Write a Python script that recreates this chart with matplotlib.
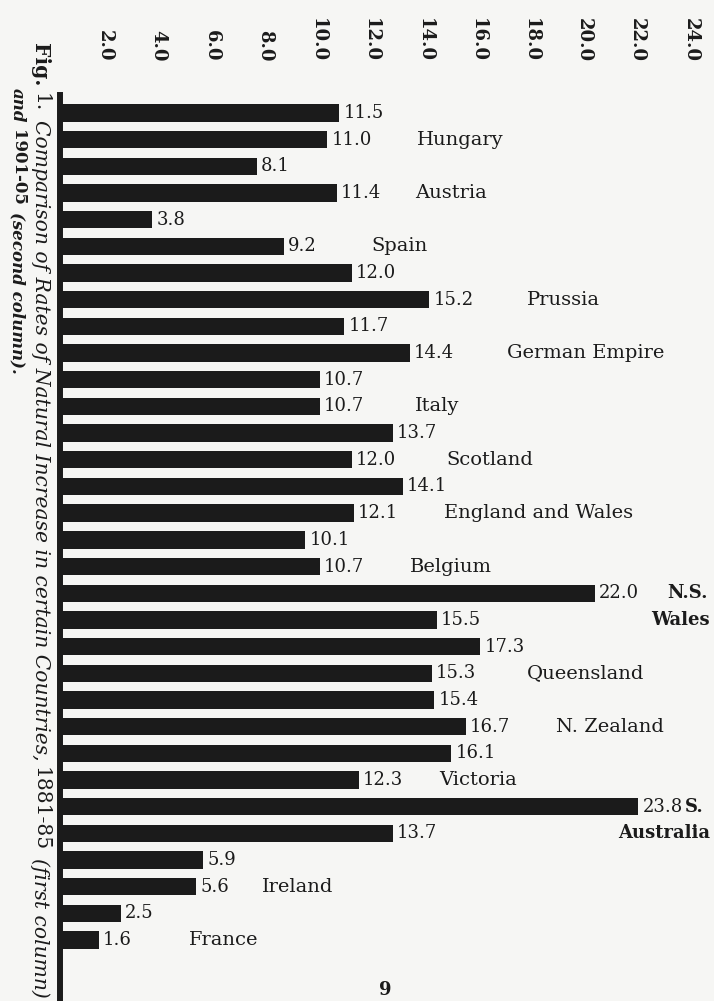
import matplotlib
matplotlib.use("Agg")
import matplotlib.pyplot as plt

# rates of natural increase, 1881-85 (first bar) and 1901-05 (second bar)
countries = ["Hungary", "Austria", "Spain", "Prussia", "German Empire", "Italy",
             "Scotland", "England and Wales", "Belgium", "N.S. Wales", "Queensland",
             "N. Zealand", "Victoria", "S. Australia", "Ireland", "France"]
rate_1881_85 = [11.5, 8.1, 3.8, 12.0, 11.7, 10.7, 13.7, 14.1, 10.1, 22.0,
                17.3, 15.4, 16.1, 23.8, 5.9, 2.5]
rate_1901_05 = [11.0, 11.4, 9.2, 15.2, 14.4, 10.7, 12.0, 12.1, 10.7, 15.5,
                15.3, 16.7, 12.3, 13.7, 5.6, 1.6]
scale_ticks = [2.0, 4.0, 6.0, 8.0, 10.0, 12.0, 14.0, 16.0, 18.0, 20.0, 22.0, 24.0]

# where the country names start (x in bar units); the two split names
# put their first word on the upper row and the rest flush right below
name_x = [14.7, 14.6, 12.8, 19.2, 18.4, 14.6, 15.9, 15.8, 14.4, 25.0,
          19.2, 20.4, 15.6, 25.7, 8.3, 5.3]
split_names = ["N.S. Wales", "S. Australia"]

ink = "#1b1b1b"
paper = "#f6f6f4"
serif = "DejaVu Serif"

W, H = 714, 1001
fig = plt.figure(figsize=(W / 100, H / 100), dpi=100)
fig.patch.set_facecolor(paper)

ax = fig.add_axes([60 / W, 0, 654 / W, 906 / H])
ax.set_facecolor(paper)

ys, vals = [], []
for i in range(len(countries)):
    ys += [2 * i, 2 * i + 1]
    vals += [rate_1881_85[i], rate_1901_05[i]]

ax.barh(ys, vals, height=0.65, color=ink)
ax.set_xlim(0, 654 / 24.3)
ax.set_ylim(31 + 61 / 26.68, -18 / 26.68)

for s in ["top", "right", "bottom"]:
    ax.spines[s].set_visible(False)
ax.spines["left"].set_linewidth(4.3)
ax.spines["left"].set_color(ink)
ax.set_xticks([])
ax.set_yticks([])

# value at the end of every bar
for y, v in zip(ys, vals):
    ax.annotate(f"{v:.1f}", (v, y), xytext=(3, 0), textcoords="offset points",
                va="center", ha="left", fontsize=13, family=serif, color=ink)

# country names
for i, name in enumerate(countries):
    if name in split_names:
        first, rest = name.split(" ", 1)
        ax.text(name_x[i], 2 * i, first, va="center", ha="left", fontsize=13,
                family=serif, fontweight="bold", color=ink)
        ax.text(0.994, 2 * i + 1, rest, va="center", ha="right", fontsize=13,
                family=serif, fontweight="bold", color=ink,
                transform=ax.get_yaxis_transform())
    else:
        ax.text(name_x[i], 2 * i + 1, name, va="center", ha="left", fontsize=14,
                family=serif, color=ink)

# printed scale along the top
ax2 = ax.twiny()
lo = 8 / 26.6
ax2.set_xlim(lo, lo + 654 / 26.6)
ax2.set_xticks(scale_ticks)
ax2.set_xticklabels([f"{t:.1f}" for t in scale_ticks], rotation=270,
                    fontsize=13, fontweight="bold", family=serif, color=ink)
ax2.tick_params(axis="x", length=0, pad=24)
for s in ax2.spines.values():
    s.set_visible(False)

# caption running down the left side, set piece by piece
line1 = [("Fig.", "normal", "bold"), ("1.", "normal", "normal"),
         ("Comparison of Rates of Natural Increase in certain Countries,", "italic", "normal"),
         ("1881-85", "normal", "normal"), ("(first column)", "italic", "normal")]
line2 = [("and", "italic", "bold"), ("1901-05", "normal", "bold"),
         ("(second column).", "italic", "bold")]

renderer = fig.canvas.get_renderer()
for pieces, x, top, size in [(line1, 40, H - 43, 14.6), (line2, 17, H - 88, 12)]:
    y = top
    for txt, style, weight in pieces:
        t = fig.text(x / W, y / H, txt, rotation=270, ha="center", va="top",
                     fontsize=size, family=serif, style=style, fontweight=weight,
                     color=ink)
        bb = t.get_window_extent(renderer)
        y = bb.y0 - 7

fig.text(385 / W, 2 / H, "9", ha="center", va="bottom", fontsize=13,
         family=serif, fontweight="bold", color=ink)

fig.savefig("out.png", dpi=100, facecolor=paper)
